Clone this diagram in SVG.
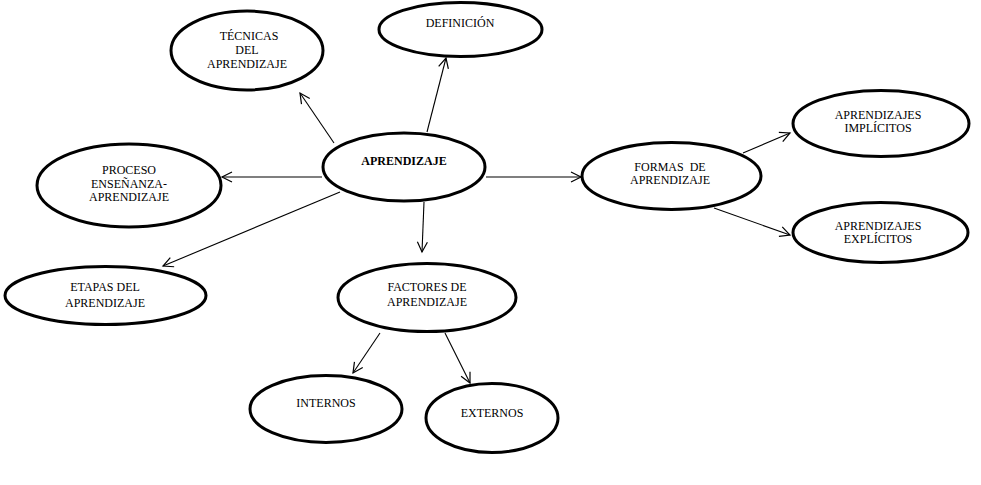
<svg xmlns="http://www.w3.org/2000/svg" width="981" height="485" viewBox="0 0 981 485">
<style>
.n ellipse{fill:#fff;stroke:#000;stroke-width:3}
text{font-family:"Liberation Serif","Times New Roman",serif;font-size:12px;fill:#000;text-anchor:middle}
.b{font-weight:bold}
#edges line{stroke:#000;stroke-width:1.1;fill:none}
</style>
<defs>
<marker id="ah" markerUnits="userSpaceOnUse" markerWidth="14" markerHeight="14" refX="11" refY="6" orient="auto" viewBox="0 0 14 12">
<path d="M1,1 L11,6 L1,11" fill="none" stroke="#000" stroke-width="1.2"/>
</marker>
</defs>
<rect width="981" height="485" fill="#fff"/>
<g id="edges">
<line x1="334" y1="143" x2="300" y2="93" marker-end="url(#ah)"/>
<line x1="427" y1="132" x2="446" y2="58" marker-end="url(#ah)"/>
<line x1="322" y1="177" x2="222" y2="177" marker-end="url(#ah)"/>
<line x1="340" y1="192" x2="163" y2="266" marker-end="url(#ah)"/>
<line x1="424" y1="202" x2="422" y2="252" marker-end="url(#ah)"/>
<line x1="486" y1="177" x2="581" y2="177" marker-end="url(#ah)"/>
<line x1="743" y1="153" x2="790" y2="133" marker-end="url(#ah)"/>
<line x1="714" y1="208" x2="790" y2="235" marker-end="url(#ah)"/>
<line x1="380" y1="333" x2="353" y2="373" marker-end="url(#ah)"/>
<line x1="445" y1="333" x2="470" y2="383" marker-end="url(#ah)"/>
</g>
<g id="tecnicas" class="n"><ellipse cx="247" cy="50.5" rx="76" ry="39.5"/>
<text x="249" y="40">TÉCNICAS</text><text x="247" y="54">DEL</text><text x="247" y="68">APRENDIZAJE</text></g>
<g id="definicion" class="n"><ellipse cx="460.5" cy="29.5" rx="81.5" ry="27"/>
<text x="460" y="27">DEFINICIÓN</text></g>
<g id="aprendizaje" class="n"><ellipse cx="404" cy="167" rx="81" ry="34"/>
<text class="b" x="404" y="165">APRENDIZAJE</text></g>
<g id="proceso" class="n"><ellipse cx="129" cy="185.5" rx="92" ry="41.5"/>
<text x="129" y="174">PROCESO</text><text x="129" y="188">ENSEÑANZA-</text><text x="129" y="201">APRENDIZAJE</text></g>
<g id="etapas" class="n"><ellipse cx="105.5" cy="295.5" rx="100.5" ry="29"/>
<text x="105" y="291">ETAPAS DEL</text><text x="105" y="307">APRENDIZAJE</text></g>
<g id="factores" class="n"><ellipse cx="427" cy="297.5" rx="89" ry="34"/>
<text x="427" y="291">FACTORES DE</text><text x="427" y="306">APRENDIZAJE</text></g>
<g id="internos" class="n"><ellipse cx="326" cy="409" rx="76" ry="33.5"/>
<text x="326" y="407">INTERNOS</text></g>
<g id="externos" class="n"><ellipse cx="492" cy="418" rx="66" ry="34.5"/>
<text x="492" y="417">EXTERNOS</text></g>
<g id="formas" class="n"><ellipse cx="671.5" cy="176" rx="89.5" ry="33.5"/>
<text x="670" y="171" xml:space="preserve">FORMAS  DE</text><text x="670" y="184">APRENDIZAJE</text></g>
<g id="implicitos" class="n"><ellipse cx="881" cy="123.5" rx="88" ry="33"/>
<text x="878" y="119">APRENDIZAJES</text><text x="878" y="132">IMPLÍCITOS</text></g>
<g id="explicitos" class="n"><ellipse cx="880.5" cy="232.5" rx="87.5" ry="30"/>
<text x="878" y="230">APRENDIZAJES</text><text x="878" y="243">EXPLÍCITOS</text></g>
</svg>
